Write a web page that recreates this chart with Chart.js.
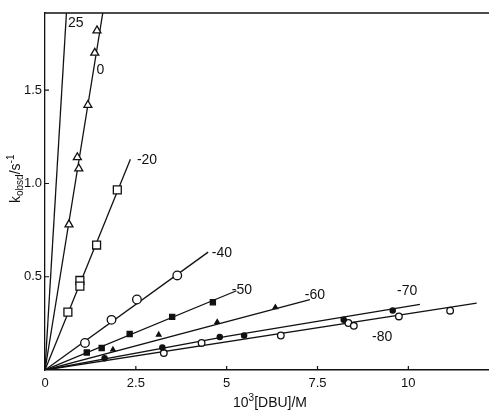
<!DOCTYPE html>
<html>
<head>
<meta charset="utf-8">
<script src="https://cdn.jsdelivr.net/npm/chart.js@4/dist/chart.umd.min.js"></script>
<style>
  html, body { margin: 0; padding: 0; background: #fff; }
  #wrap { width: 489px; height: 410px; }
</style>
</head>
<body>
<div id="wrap"><canvas id="kinetics" width="489" height="410"></canvas></div>
<script>
// 10^3 [DBU] / M  vs  k_obsd / s^-1, one series per temperature (°C)
const conc0 = [1.43, 1.37, 1.18, 0.89, 0.93, 0.66];
const kobs0 = [1.82, 1.70, 1.42, 1.14, 1.08, 0.78];
const conc20 = [1.99, 1.42, 0.96, 0.96, 0.63];
const kobs20 = [0.966, 0.67, 0.48, 0.45, 0.31];
const conc40 = [3.64, 2.53, 1.83, 1.10];
const kobs40 = [0.507, 0.378, 0.269, 0.145];
const conc50 = [4.62, 3.50, 2.33, 1.56, 1.15];
const kobs50 = [0.363, 0.285, 0.193, 0.118, 0.094];
const conc60 = [1.87, 3.13, 4.74, 6.34];
const kobs60 = [0.109, 0.189, 0.257, 0.336];
const conc70 = [1.64, 3.23, 4.81, 5.48, 8.22, 9.57];
const kobs70 = [0.063, 0.12, 0.177, 0.185, 0.27, 0.319];
const conc80 = [3.27, 4.31, 6.49, 8.35, 8.50, 9.74, 11.15];
const kobs80 = [0.091, 0.145, 0.185, 0.252, 0.237, 0.287, 0.318];

// drawn lines
const fit25x = [0, 0.59], fit25y = [0, 1.914];
const fit0x = [0, 1.59], fit0y = [0, 1.914];
const fit20x = [0, 2.35], fit20y = [0, 1.13];
const fit40x = [0, 4.49], fit40y = [0, 0.632];
const fit50x = [0, 5.27], fit50y = [0, 0.425];
const fit60x = [0, 7.29], fit60y = [0, 0.377];
const fit70x = [0, 5.0, 10.32], fit70y = [0, 0.18, 0.352];
const fit80x = [0, 11.88], fit80y = [0, 0.359];

const curveLabels = ["25", "0", "-20", "-40", "-50", "-60", "-70", "-80"];
const labelX = [0.63, 1.42, 2.53, 4.59, 5.14, 7.15, 9.69, 9.0];
const labelY = [1.86, 1.608, 1.126, 0.628, 0.43, 0.403, 0.425, 0.178];

const xTicks = [0, 2.5, 5, 7.5, 10];
const yTicks = [0.5, 1.0, 1.5];

const ink = "#111";
const FONT = "'Liberation Sans', Arial, sans-serif";

const pts = (xs, ys) => xs.map((x, i) => ({ x: x, y: ys[i] }));

const lineSet = (xs, ys) => ({
  data: pts(xs, ys),
  showLine: true,
  borderColor: ink,
  borderWidth: 1.3,
  pointRadius: 0,
  order: 2,
});

const markSet = (xs, ys, style, r, filled) => ({
  data: pts(xs, ys),
  showLine: false,
  pointStyle: style,
  pointRadius: r,
  pointBorderWidth: 1.3,
  pointBorderColor: ink,
  pointBackgroundColor: filled ? ink : "#fff",
  order: 1,
});

const extras = {
  id: "extras",
  afterDraw(chart) {
    const ctx = chart.ctx;
    const xs = chart.scales.x, ys = chart.scales.y;
    const a = chart.chartArea;
    ctx.save();
    ctx.strokeStyle = ink;
    ctx.fillStyle = ink;
    // top border
    ctx.lineWidth = 1.5;
    ctx.beginPath();
    ctx.moveTo(a.left, a.top);
    ctx.lineTo(a.right, a.top);
    ctx.stroke();
    // inward ticks
    ctx.lineWidth = 1.2;
    ctx.beginPath();
    xTicks.forEach((v) => {
      const px = xs.getPixelForValue(v);
      ctx.moveTo(px, a.bottom);
      ctx.lineTo(px, a.bottom - 4);
    });
    yTicks.forEach((v) => {
      const py = ys.getPixelForValue(v);
      ctx.moveTo(a.left, py);
      ctx.lineTo(a.left + 4, py);
    });
    ctx.stroke();
    // curve labels
    ctx.font = "14px " + FONT;
    ctx.textAlign = "left";
    ctx.textBaseline = "middle";
    curveLabels.forEach((t, i) => {
      ctx.fillText(t, xs.getPixelForValue(labelX[i]), ys.getPixelForValue(labelY[i]));
    });
    // x title
    ctx.textAlign = "left";
    ctx.textBaseline = "alphabetic";
    const tx = 233, ty = 407;
    ctx.font = "14px " + FONT;
    ctx.fillText("10", tx, ty);
    let w = ctx.measureText("10").width;
    ctx.font = "10px " + FONT;
    ctx.fillText("3", tx + w, ty - 6);
    w += ctx.measureText("3").width;
    ctx.font = "14px " + FONT;
    ctx.fillText("[DBU]/M", tx + w, ty);
    // y title (rotated)
    ctx.translate(20, 203);
    ctx.rotate(-Math.PI / 2);
    let p = 0;
    ctx.font = "14px " + FONT;
    ctx.fillText("k", p, 0);
    p += ctx.measureText("k").width;
    ctx.font = "10px " + FONT;
    ctx.fillText("obsd", p, 3);
    p += ctx.measureText("obsd").width;
    ctx.font = "14px " + FONT;
    ctx.fillText("/s", p, 0);
    p += ctx.measureText("/s").width;
    ctx.font = "10px " + FONT;
    ctx.fillText("-1", p, -6);
    ctx.restore();
  },
};

Chart.defaults.font.family = FONT;
Chart.defaults.color = ink;

new Chart(document.getElementById("kinetics"), {
  type: "scatter",
  data: {
    datasets: [
      lineSet(fit25x, fit25y),
      lineSet(fit0x, fit0y),
      lineSet(fit20x, fit20y),
      lineSet(fit40x, fit40y),
      lineSet(fit50x, fit50y),
      lineSet(fit60x, fit60y),
      lineSet(fit70x, fit70y),
      lineSet(fit80x, fit80y),
      markSet(conc0, kobs0, "triangle", 4.6, false),
      markSet(conc20, kobs20, "rect", 5.6, false),
      markSet(conc40, kobs40, "circle", 4.3, false),
      markSet(conc50, kobs50, "rect", 3.6, true),
      markSet(conc60, kobs60, "triangle", 2.6, true),
      markSet(conc70, kobs70, "circle", 2.6, true),
      markSet(conc80, kobs80, "circle", 3.3, false),
    ],
  },
  plugins: [extras],
  options: {
    responsive: false,
    animation: false,
    layout: { autoPadding: false, padding: { top: 13, right: 0, left: 0, bottom: 0 } },
    plugins: { legend: { display: false }, tooltip: { enabled: false } },
    scales: {
      x: {
        type: "linear",
        min: 0,
        max: 12.22,
        afterFit: (s) => { s.height = 40; },
        grid: { display: false, drawTicks: false },
        border: { display: true, color: ink, width: 1.5 },
        ticks: {
          stepSize: 2.5,
          includeBounds: false,
          padding: 6,
          font: { size: 13 },
          callback: (v) => String(v),
        },
      },
      y: {
        type: "linear",
        min: 0,
        max: 1.914,
        afterFit: (s) => { s.width = 45; },
        grid: { display: false, drawTicks: false },
        border: { display: true, color: ink, width: 1.3, dash: [9, 2] },
        ticks: {
          stepSize: 0.5,
          includeBounds: false,
          padding: 3,
          font: { size: 13 },
          callback: (v) => (v === 0 ? "" : v.toFixed(1)),
        },
      },
    },
  },
});
</script>
</body>
</html>
